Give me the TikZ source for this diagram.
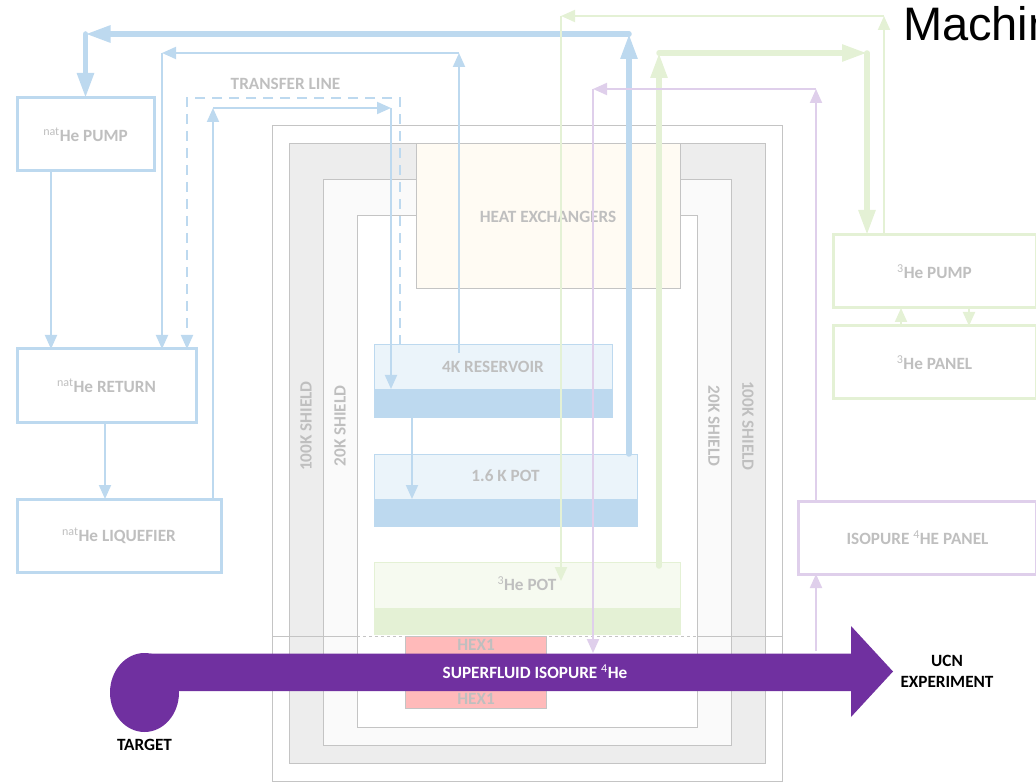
\documentclass[tikz,border=0pt]{standalone}
\usepackage{fontspec}
\setmainfont{Carlito}
\newfontfamily\titlefont{Liberation Sans}
\usepackage{tikz}
\usetikzlibrary{arrows.meta,positioning,shapes.geometric}
\definecolor{natblue}{HTML}{BDD9EF}
\definecolor{palegreen}{HTML}{E4F1D5}
\definecolor{palepurple}{HTML}{DFCFEB}
\definecolor{beam}{HTML}{7030A0}
\definecolor{wall}{HTML}{C4C4C4}
\definecolor{ink}{HTML}{BFBFBF}
\definecolor{warm}{HTML}{FFFBF3}
\tikzset{
  plant/.style={x=1pt, y=-1pt, every node/.style={inner sep=0pt, outer sep=0pt, align=center, font=\fontsize{17.2}{20.5}\selectfont\bfseries, text=ink}},
  box/.style={draw, line width=3pt, fill=white},
  shield/.style={draw=wall, line width=1pt},
  vessel/.style={draw, line width=1pt},
  pipe/.style={-{Triangle[length=14pt,width=12pt]}, line width=2pt},
  fatpipe/.style={-{Triangle[length=25pt,width=16pt]}, line width=5.5pt, line cap=round},
  blk/.style={text=black}
}
\newcommand{\sups}[1]{\textsuperscript{\mdseries #1}}
\begin{document}
\begin{tikzpicture}[plant]
\useasboundingbox (0,0) rectangle (1036,783);
% cryostat
\node[shield, fill=white, minimum width=510pt, minimum height=655pt] (s100o) at (527,453.5) {};
\node[shield, fill=black!7, minimum width=476pt, minimum height=619pt] (s100i) at (527,453.5) {};
\node[shield, fill=black!2, minimum width=408pt, minimum height=565pt] (s20) at (527,462.5) {};
\node[shield, fill=white, minimum width=340pt, minimum height=511pt] (s4) at (527,471.5) {};
\coordinate (cutL) at (272,636); \coordinate (cutR) at (782,636);
\draw[wall, line width=1pt] (cutL) -- (s4.west |- cutL); \draw[wall, line width=1pt] (cutR) -- (s4.east |- cutR);
\draw[wall, line width=1pt, dashed] (s4.west |- cutL) -- (s4.east |- cutR);
\draw[wall, line width=1pt] (cutL) -- ++(0,18);
\node[rotate=90] (l100) at (306,426) {100K SHIELD};
\node[rotate=90] (l20) at (340,426) {20K SHIELD};
\node[rotate=-90] (r20) at (714,426) {20K SHIELD};
\node[rotate=-90] (r100) at (748,426) {100K SHIELD};
\node[shield, fill=warm, minimum width=264pt, minimum height=145pt] (hx) at (548,216.5) {HEAT EXCHANGERS};
% pots
\node[vessel, draw=natblue, fill=natblue!30, minimum width=238pt, minimum height=72pt] (res) at (493,381) {};
\node[fill=natblue, minimum width=238pt, minimum height=28pt] (resb) at (493,403) {};
\node (resl) at (493,367) {4K RESERVOIR};
\node[vessel, draw=natblue, fill=natblue!30, minimum width=263pt, minimum height=72pt] (pot) at (505.5,490) {};
\node[fill=natblue, minimum width=263pt, minimum height=28pt] (potb) at (505.5,513) {};
\node (potl) at (505.5,476) {1.6 K POT};
\node[vessel, draw=palegreen, fill=palegreen!35, minimum width=306pt, minimum height=72pt] (he3) at (527,598.5) {};
\node[fill=palegreen, minimum width=306pt, minimum height=27pt] (he3b) at (527,621.5) {};
\node (he3l) at (527,584) {\sups{3}He POT};
\node[draw=wall, fill=red!27, minimum width=141pt, minimum height=72pt] (hex) at (476,672) {};
\node (hexa) at (476,645) {HEX1};
\node (hexb) at (476,699) {HEX1};
% plant boxes
\node[box, draw=natblue, minimum width=137pt, minimum height=73pt] (npump) at (85.5,134.5) {\sups{nat}He PUMP};
\node[box, draw=natblue, minimum width=179pt, minimum height=73pt] (nret) at (106.5,385.5) {\sups{nat}He RETURN};
\node[box, draw=natblue, minimum width=204pt, minimum height=73pt] (nliq) at (119,535.5) {\sups{nat}He LIQUEFIER};
\node[box, draw=palegreen, minimum width=203pt, minimum height=73pt] (tpump) at (934.5,271.5) {\sups{3}He PUMP};
\node[box, draw=palegreen, minimum width=203pt, minimum height=73pt] (tpanel) at (934.5,362.5) {\sups{3}He PANEL};
\node[box, draw=palepurple, minimum width=238pt, minimum height=73pt] (iso) at (917.5,537.5) {ISOPURE \sups{4}HE PANEL};
\node (tline) at (285.5,84) {TRANSFER LINE};
% natural helium lines
\coordinate (b1) at (629,34); \coordinate (b2) at (85.5,34);
\draw[fatpipe, natblue] (b1 |- pot.north) -- (b1);
\draw[fatpipe, natblue] (b1) -- (b2);
\draw[fatpipe, natblue] (b2) -- (npump.north);
\coordinate (b3) at (459,53); \coordinate (b4) at (162,53);
\draw[pipe, natblue] (459,353) -- (b3);
\draw[pipe, natblue] (b3) -- (b4);
\draw[pipe, natblue] (b4) -- (b4 |- nret.north);
\coordinate (b5) at (400,98); \coordinate (b6) at (187,98);
\draw[pipe, natblue, dash pattern=on 10pt off 7pt] (b5 |- res.north) -- (b5) -- (b6) -- (b6 |- nret.north);
\coordinate (b7) at (213,108); \coordinate (b8) at (391,108);
\draw[pipe, natblue] (b7 |- nliq.north) -- (b7);
\draw[pipe, natblue] (b7) -- (b8);
\draw[pipe, natblue] (b8) -- (b8 |- resb.north);
\coordinate (x1) at (51,0); \coordinate (x2) at (105,0); \coordinate (x3) at (412,0);
\draw[pipe, natblue] (x1 |- npump.south) -- (x1 |- nret.north);
\draw[pipe, natblue] (x2 |- nret.south) -- (x2 |- nliq.north);
\draw[pipe, natblue] (x3 |- res.south) -- (x3 |- potb.north);
% helium-3 lines
\coordinate (g1) at (884,16); \coordinate (g2) at (561,16);
\draw[pipe, palegreen] (g1 |- tpump.north) -- (g1);
\draw[pipe, palegreen] (g1) -- (g2);
\draw[pipe, palegreen] (g2) -- (561,581);
\coordinate (g3) at (659,53); \coordinate (g4) at (867,53);
\draw[fatpipe, palegreen] (659,566) -- (g3);
\draw[fatpipe, palegreen] (g3) -- (g4);
\draw[fatpipe, palegreen] (g4) -- (g4 |- tpump.north);
\coordinate (x4) at (901,0); \coordinate (x5) at (969,0);
\draw[pipe, palegreen] (x4 |- tpanel.north) -- (x4 |- tpump.south);
\draw[pipe, palegreen] (x5 |- tpump.south) -- (x5 |- tpanel.north);
% isopure lines
\coordinate (p1) at (816,89); \coordinate (p2) at (593,89); \coordinate (p3) at (816,651);
\draw[pipe, palepurple] (p1 |- iso.north) -- (p1);
\draw[pipe, palepurple] (p1) -- (p2);
\draw[pipe, palepurple] (p2) -- (593,653);
\draw[pipe, palepurple] (p3) -- (p3 |- iso.south);
% beam
\node[ellipse, fill=beam, minimum width=69pt, minimum height=79pt] (target) at (144.5,692.5) {};
\fill[beam] (150,653.5) -- (851,653.5) -- (851,626) -- (893,671.5) -- (851,717) -- (851,691) -- (150,691) -- cycle;
\node[text=white] (sflabel) at (535,672) {SUPERFLUID ISOPURE \sups{4}He};
\node[blk] (tglabel) at (144.5,745) {TARGET};
\node[blk] (ucn) at (947,671.5) {UCN\\EXPERIMENT};
\node[anchor=base west, font=\fontsize{47}{47}\selectfont\titlefont, text=black] (title) at (903,41) {Machin};
\end{tikzpicture}
\end{document}
